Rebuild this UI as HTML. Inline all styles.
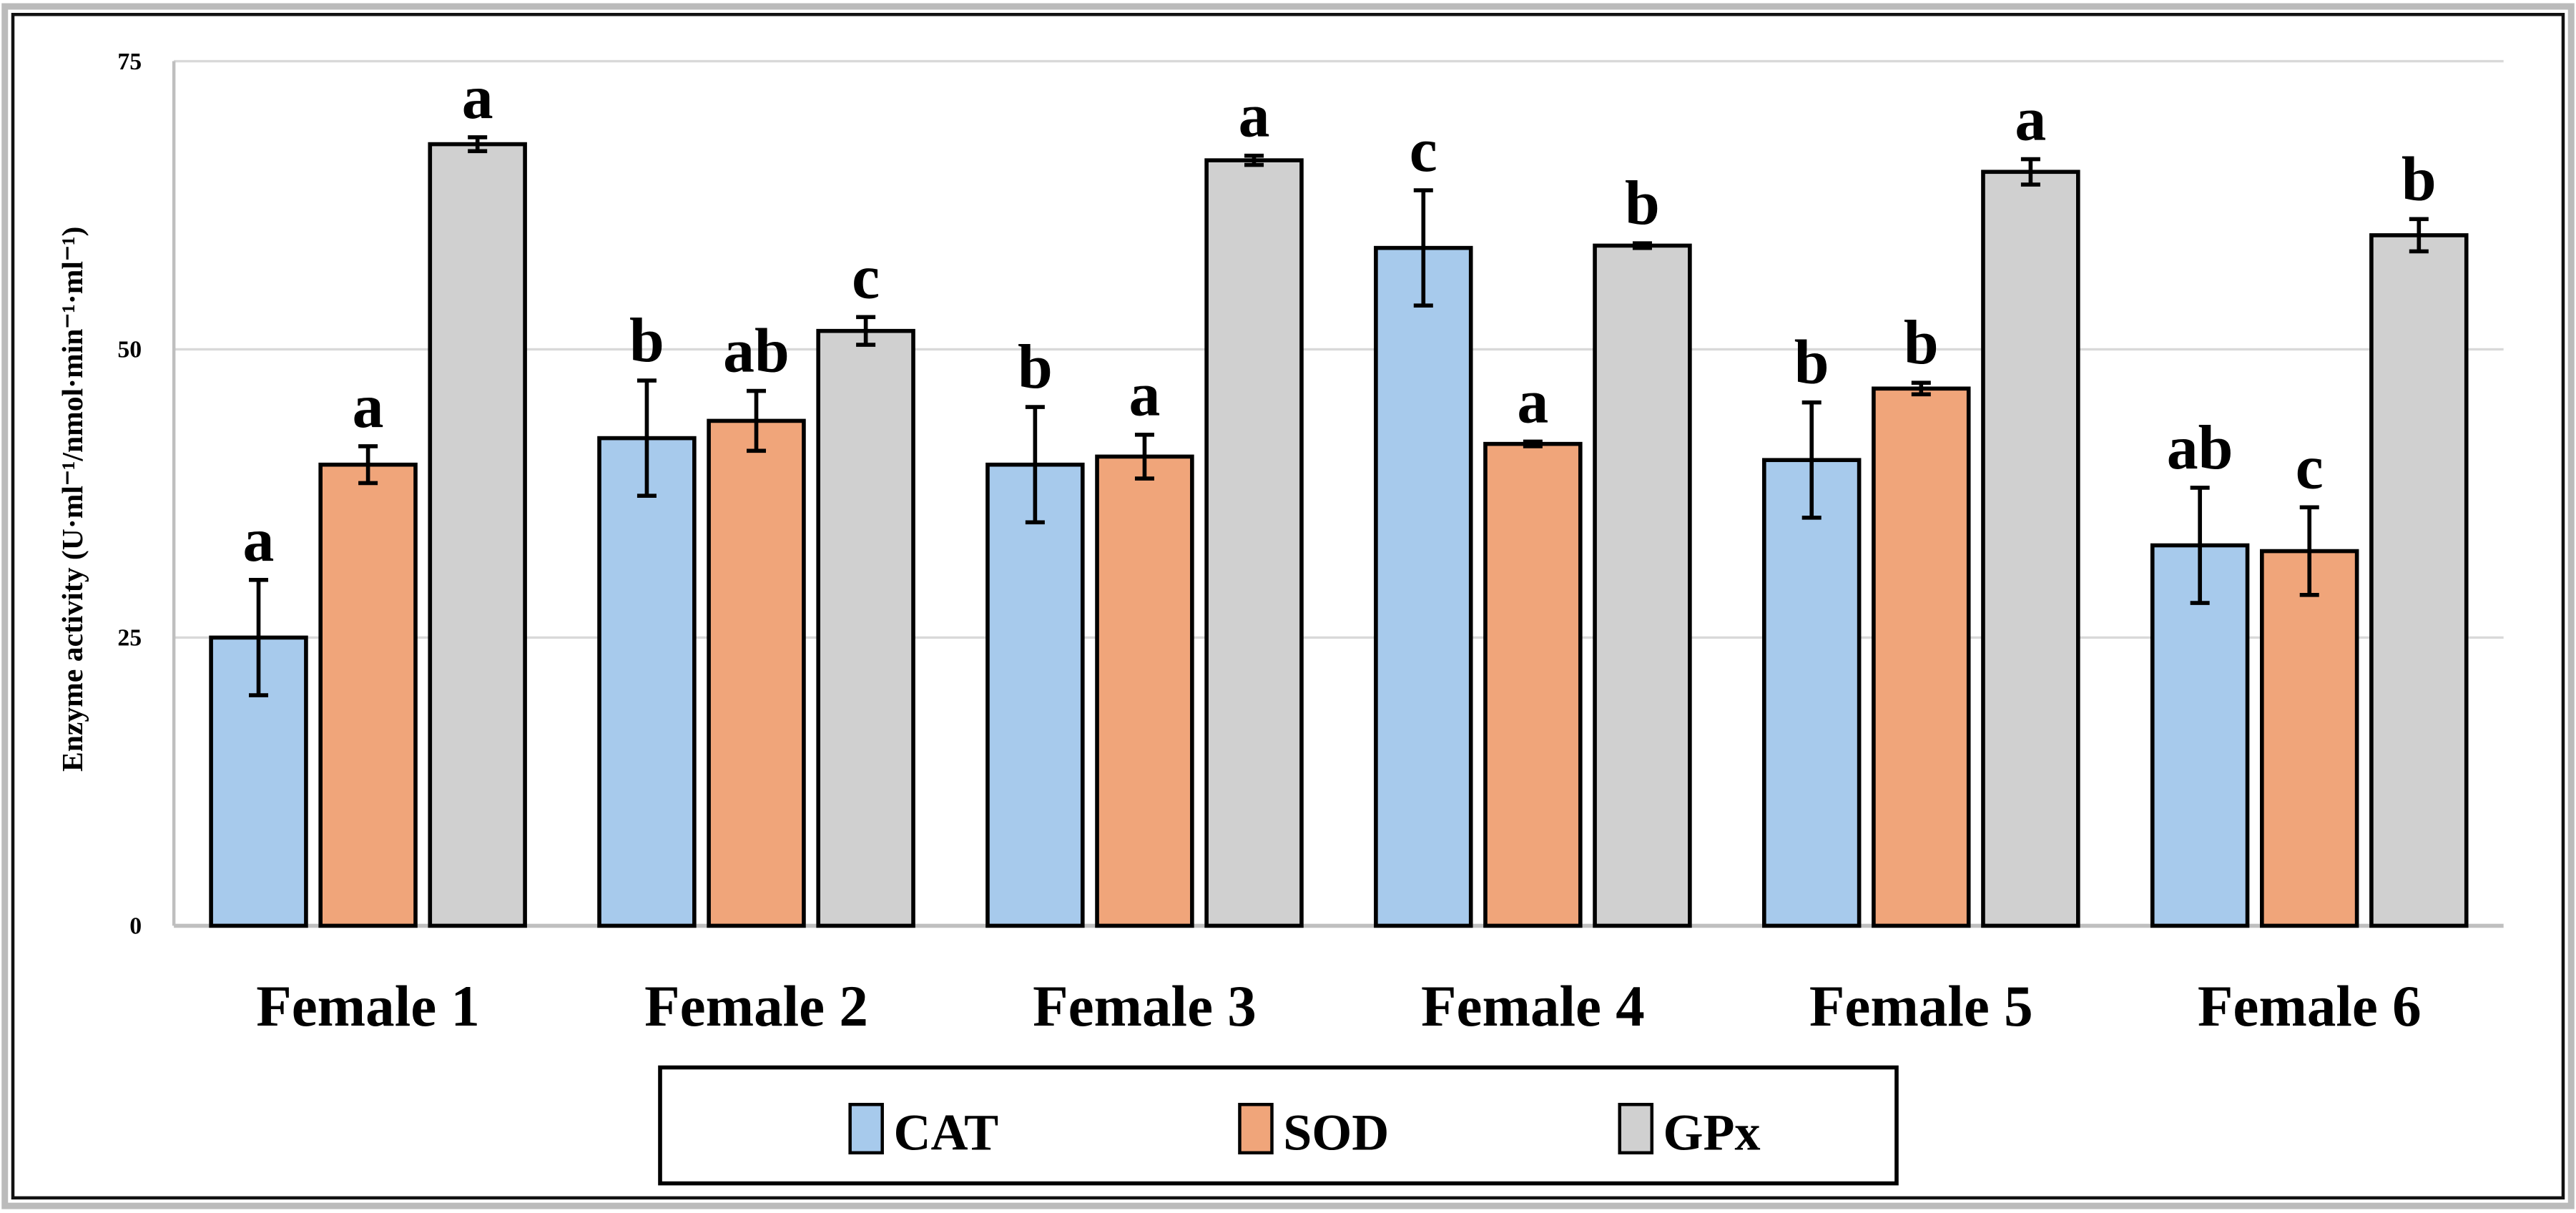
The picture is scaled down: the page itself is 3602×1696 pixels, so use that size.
<!DOCTYPE html>
<html><head><meta charset="utf-8"><style>
html,body{margin:0;padding:0;background:#fff;}
svg{display:block;}
text{font-family:"Liberation Serif",serif;font-weight:bold;}
</style></head><body>
<svg id="chart" width="3602" height="1696" viewBox="0 0 1600 753.4" preserveAspectRatio="none" xmlns="http://www.w3.org/2000/svg">
<rect x="3" y="4" width="1594" height="745" fill="#fff" stroke="#bbb" stroke-width="4"/>
<rect x="8" y="9" width="1584" height="735" fill="none" stroke="#111" stroke-width="2"/>
<g id="grid"></g>
<g id="bars"></g>
<text transform="translate(51,310) rotate(-90)" text-anchor="middle" font-size="18.5">Enzyme activity (U·ml⁻¹/nmol·min⁻¹·ml⁻¹)</text>
<g>
<rect x="410" y="663" width="768" height="72" fill="#fff" stroke="#000" stroke-width="2.5"/>
<g id="legend"></g>
</g>
</svg>
<script>
const categories=["Female 1","Female 2","Female 3","Female 4","Female 5","Female 6"];
const seriesNames=["CAT","SOD","GPx"];
const catValues=[25,42.3,40,58.8,40.4,33];
const catErr=[5,5,5,5,5,5];
const sodValues=[40,43.8,40.7,41.8,46.6,32.5];
const sodErr=[1.6,2.6,1.9,0.2,0.5,3.8];
const gpxValues=[67.8,51.6,66.4,59,65.4,59.9];
const gpxErr=[0.6,1.2,0.4,0.2,1.1,1.4];
const catLetters=["a","b","b","c","b","ab"];
const sodLetters=["a","ab","a","a","b","c"];
const gpxLetters=["a","c","a","b","a","b"];
const yTicks=[0,25,50,75];
const colors=["#a7caec","#f0a57a","#d0d0d0"];
const NS="http://www.w3.org/2000/svg";
const x0=108,x1=1555,y0=575,yTop=38,yMax=75;
function y(v){return y0-(v/yMax)*(y0-yTop);}
const gw=(x1-x0)/categories.length;
function gx(i){return x0+gw*(i+0.5);}
function mk(tag,attrs,parent){const e=document.createElementNS(NS,tag);for(const k in attrs)e.setAttribute(k,attrs[k]);parent.appendChild(e);return e;}
const grid=document.getElementById('grid');
yTicks.forEach(t=>{
  if(t>0){const l=mk('line',{x1:x0,x2:x1,y1:y(t),y2:y(t),stroke:'#d9d9d9','stroke-width':1.5},grid);
  
  }
  const tx=mk('text',{x:88,y:y(t)+5,'text-anchor':'end','font-size':15},grid);
  tx.textContent=t;
  
  
});
const ax=mk('line',{x1:x0,x2:x0,y1:yTop,y2:y0,stroke:'#bfbfbf','stroke-width':2},grid);


const bx=mk('line',{x1:x0,x2:x1,y1:y0,y2:y0,stroke:'#bfbfbf','stroke-width':2.5},grid);


const bars=document.getElementById('bars');
const series=[[catValues,catErr,catLetters],[sodValues,sodErr,sodLetters],[gpxValues,gpxErr,gpxLetters]];
const bw=59,step=68;
categories.forEach((c,i)=>{
  series.forEach((s,k)=>{
    const cx=gx(i)+(k-1)*step;
    const v=s[0][i],e=s[1][i];
    const r=mk('rect',{x:cx-bw/2,y:y(v),width:bw,height:y0-y(v),fill:colors[k],stroke:'#000','stroke-width':2.5},bars);
    
    
    const eb=mk('path',{d:`M${cx} ${y(v+e)}V${y(v-e)}M${cx-6} ${y(v+e)}H${cx+6}M${cx-6} ${y(v-e)}H${cx+6}`,stroke:'#000','stroke-width':2.5,fill:'none'},bars);
    
    
    const lt=mk('text',{x:cx,y:y(v+e)-12,'text-anchor':'middle','font-size':39},bars);
    lt.textContent=s[2][i];
    
    
  });
  const t=mk('text',{x:gx(i),y:637,'text-anchor':'middle','font-size':36},bars);
  t.textContent=c;
  
  
});
const lg=document.getElementById('legend');
const lx=[528,770,1006];
seriesNames.forEach((n,k)=>{
  const r=mk('rect',{x:lx[k],y:686,width:20,height:30,fill:colors[k],stroke:'#000','stroke-width':2},lg);
  
  
  const t=mk('text',{x:lx[k]+27,y:714,'font-size':32},lg);
  t.textContent=n;
  
  
});
</script>
</body></html>
